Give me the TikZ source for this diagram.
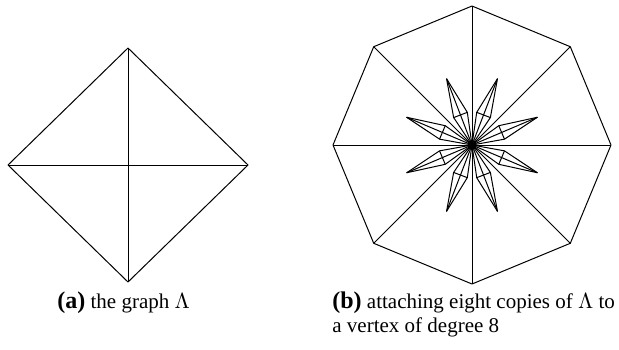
\documentclass[tikz,border=0pt]{standalone}
\usepackage{fontspec}
\setmainfont{Liberation Serif}
\usetikzlibrary{calc}
\newcommand{\sublabel}[1]{\textbf{\fontsize{12}{12}\selectfont#1}}
\begin{document}
\begin{tikzpicture}[x=0.5pt,y=-0.5pt,
  edge/.style={line width=0.5pt,line join=round},
  captext/.style={anchor=base west,inner sep=0pt,font=\fontsize{10.5}{12}\selectfont}]
\useasboundingbox (0,0) rectangle (619,349);
% (a) the graph Lambda
\coordinate (aT) at (128,48);
\coordinate (aL) at (8,165);
\coordinate (aR) at (248,165);
\coordinate (aB) at (128,282);
\draw[edge] (aT) -- (aR) -- (aB) -- (aL) -- cycle;
\draw[edge] (aT) -- (aB);
\draw[edge] (aL) -- (aR);
% (b) octagon
\coordinate (O) at (472,145);
\foreach \k in {0,...,7}{
  \coordinate (v\k) at ($(O)+(\k*45:139)$);
}
\draw[edge] (v0) -- (v1) -- (v2) -- (v3) -- (v4) -- (v5) -- (v6) -- (v7) -- cycle;
\foreach \k in {0,...,7}{ \draw[edge] (O) -- (v\k); }
% eight copies of Lambda
\foreach \a [count=\i] in {23,69,111,157,203,249,291,337}{
  \coordinate (t\i) at ($(O)+(\a:71)$);
  \coordinate (p\i) at ($(O)+(\a+12.8:33)$);
  \coordinate (q\i) at ($(O)+(\a-12.8:33)$);
  \draw[edge] (O) -- (p\i) -- (t\i) -- (q\i) -- cycle;
  \draw[edge] (O) -- (t\i);
  \draw[edge] (p\i) -- (q\i);
}
% captions
\node[captext] (ca) at (57,308) {\sublabel{(a)} the graph $\Lambda$};
\node[captext] (cb) at (332,308) {\sublabel{(b)} attaching eight copies of $\Lambda$ to};
\node[captext] (cb2) at (332,332) {a vertex of degree 8};
\end{tikzpicture}
\end{document}
